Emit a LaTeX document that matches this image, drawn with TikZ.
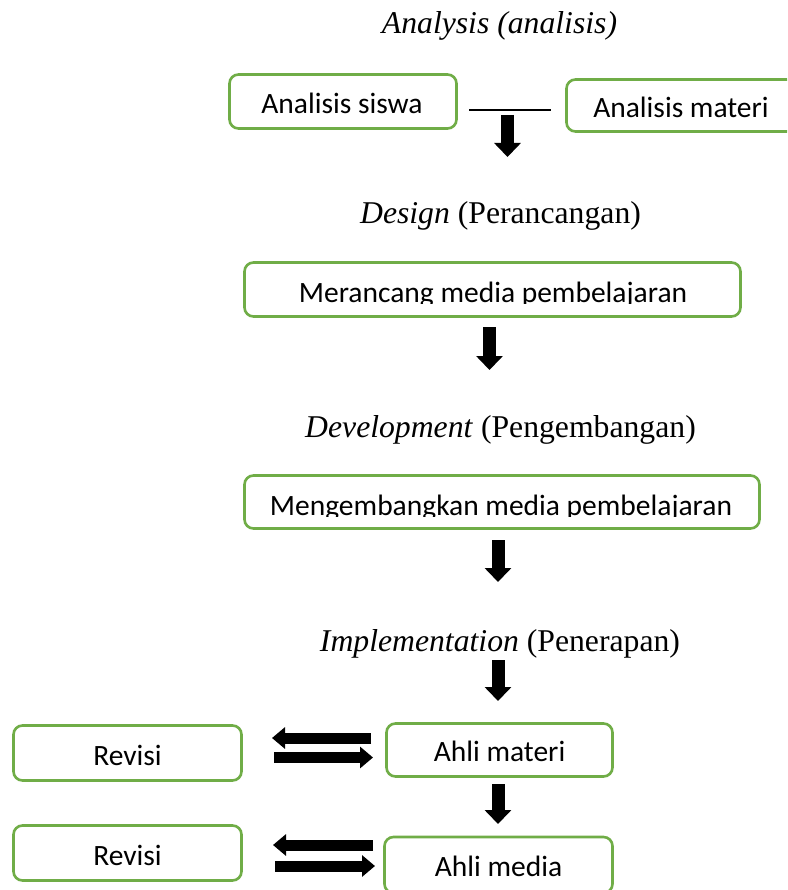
\documentclass[tikz,border=0pt]{standalone}
\usepackage{fontspec}
\setmainfont{Liberation Serif}
\newfontfamily\boxfont{Carlito}
\usetikzlibrary{arrows.meta}
\definecolor{boxgreen}{HTML}{70AD47}
\begin{document}
\begin{tikzpicture}[x=1pt,y=-1pt,
  gbox/.style 2 args={draw=boxgreen, line width=2.6pt, rounded corners=9pt,
    minimum width=#1, minimum height=#2, inner sep=0pt, fill=white},
  btext/.style={font=\boxfont\fontsize{29.5}{31}\selectfont, anchor=base, inner sep=0pt},
  title/.style={font=\fontsize{31.7}{34}\selectfont, anchor=base, inner sep=0pt},
  downarrow/.style={line width=13pt, -{Triangle[width=26pt,length=14pt]}},
  sidearrow/.style={line width=11pt, -{Triangle[width=21pt,length=13pt]}},
  thinline/.style={line width=1.2pt}
]
\useasboundingbox (0,0) rectangle (787,890);
\clip (0,0) rectangle (787,890);

% titles
\node[title] (tA) at (499.5,34) {\textit{Analysis (analisis)}};
\node[title] (tD) at (500.5,224) {\textit{Design} (Perancangan)};
\node[title] (tDev) at (500.5,437) {\textit{Development} (Pengembangan)};
\node[title] (tI) at (500,651) {\textit{Implementation} (Penerapan)};

% boxes
\node[gbox={227pt}{54pt}] (siswa) at (343,101.5) {};
\node[btext] (siswaT) at (342,114) {Analisis siswa};
\node[gbox={229pt}{52pt}] (materi) at (681,105.5) {};
\node[btext] (materiT) at (681,118) {Analisis materi};

\node[gbox={496pt}{54pt}] (rancang) at (492.5,289.5) {};
\begin{scope}
  \clip (250,265) rectangle (735,303.5);
  \node[btext] (rancangT) at (493,302) {Merancang media pembelajaran};
\end{scope}

\node[gbox={515pt}{53pt}] (kembang) at (502,502) {};
\begin{scope}
  \clip (250,478) rectangle (755,516.5);
  \node[btext] (kembangT) at (501,515) {Mengembangkan media pembelajaran};
\end{scope}

\node[gbox={226pt}{53pt}] (ahlimateri) at (499.5,750) {};
\node[btext] (ahlimateriT) at (499.5,761) {Ahli materi};
\node[gbox={228pt}{56pt}] (ahlimedia) at (498.5,865) {};
\node[btext] (ahlimediaT) at (498.5,876) {Ahli media};

\node[gbox={228pt}{55pt}] (rev1) at (127.5,753) {};
\node[btext] (rev1T) at (127.5,765) {Revisi};
\node[gbox={228pt}{55pt}] (rev2) at (127.5,853) {};
\node[btext] (rev2T) at (127.5,865) {Revisi};

% connector line between analysis boxes
\coordinate (l1) at (469,110);
\coordinate (l2) at (551,110);
\draw[thinline] (l1) -- (l2);

% down arrows
\coordinate (a1s) at (507.5,115); \coordinate (a1e) at (507.5,157);
\coordinate (a2s) at (489.5,327); \coordinate (a2e) at (489.5,370);
\coordinate (a3s) at (498,540);   \coordinate (a3e) at (498,582);
\coordinate (a4s) at (498,660);   \coordinate (a4e) at (498,701);
\coordinate (a5s) at (498,784);   \coordinate (a5e) at (498,824);
\draw[downarrow] (a1s) -- (a1e);
\draw[downarrow] (a2s) -- (a2e);
\draw[downarrow] (a3s) -- (a3e);
\draw[downarrow] (a4s) -- (a4e);
\draw[downarrow] (a5s) -- (a5e);

% side arrows
\coordinate (h1s) at (371,738);   \coordinate (h1e) at (272,738);
\coordinate (h2s) at (274,757.5); \coordinate (h2e) at (373,757.5);
\coordinate (h3s) at (373,845);   \coordinate (h3e) at (273,845);
\coordinate (h4s) at (275,866);   \coordinate (h4e) at (375,866);
\draw[sidearrow] (h1s) -- (h1e);
\draw[sidearrow] (h2s) -- (h2e);
\draw[sidearrow] (h3s) -- (h3e);
\draw[sidearrow] (h4s) -- (h4e);
\end{tikzpicture}
\end{document}
